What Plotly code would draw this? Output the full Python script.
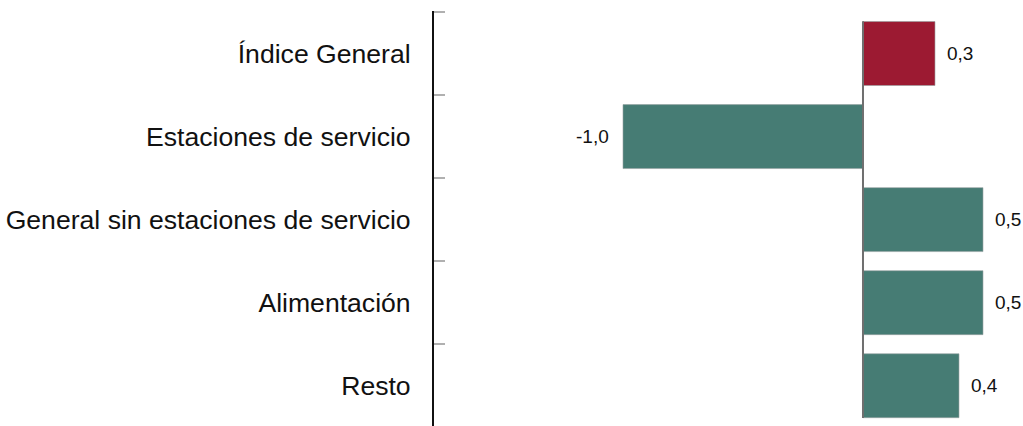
import plotly.graph_objects as go

categories = ["Índice General", "Estaciones de servicio", "General sin estaciones de servicio", "Alimentación", "Resto"]
values = [0.3, -1.0, 0.5, 0.5, 0.4]
bar_colors = ["#9C1A32", "#467C74", "#467C74", "#467C74", "#467C74"]

FONT = "Liberation Sans, Arial, sans-serif"
PLOT_W = 1023 - 434

fig = go.Figure()
fig.add_trace(go.Bar(
    y=categories, x=values, orientation="h",
    marker=dict(color=bar_colors, line=dict(color="rgba(150,160,160,0.6)", width=1)),
    width=0.77,
    hoverinfo="skip",
))

for c, v in zip(categories, values):
    fig.add_annotation(
        x=v, y=c, xref="x", yref="y",
        text=f"{v:.1f}".replace(".", ","),
        showarrow=False,
        xanchor="left" if v >= 0 else "right",
        xshift=10 if v >= 0 else -12,
        font=dict(family=FONT, size=19, color="#111111"),
    )

fig.add_shape(type="line", xref="x", yref="y",
              x0=0, x1=0, y0=-0.39, y1=4.39,
              line=dict(color="#6f6f6f", width=2), layer="above")
# top boundary tick (same style as the axis ticks)
fig.add_shape(type="line", xref="paper", yref="y",
              x0=0, x1=11 / PLOT_W, y0=-0.5, y1=-0.5,
              line=dict(color="#b0b0b0", width=2), layer="above")

fig.update_layout(
    width=1023, height=426,
    margin=dict(l=434, r=0, t=11, b=0),
    paper_bgcolor="white", plot_bgcolor="white",
    showlegend=False,
    separators=", ",
    font=dict(family=FONT, color="#111111"),
)
fig.update_xaxes(range=[-1.7875, 0.6667], showgrid=False, zeroline=False,
                 showticklabels=False, ticks="", showline=False)
fig.update_yaxes(
    type="category", categoryorder="array", categoryarray=categories,
    range=[4.485, -0.512],
    showgrid=False, zeroline=False,
    showline=True, linecolor="#111111", linewidth=2,
    ticks="inside", tickson="boundaries", ticklen=11, tickwidth=2, tickcolor="#b0b0b0",
    ticklabelstandoff=16,
    tickfont=dict(family=FONT, size=26.6, color="#111111"),
)

fig.write_html("out.html", config={"displayModeBar": False},
               post_script="document.body.style.margin='0';document.body.style.overflow='hidden';")
